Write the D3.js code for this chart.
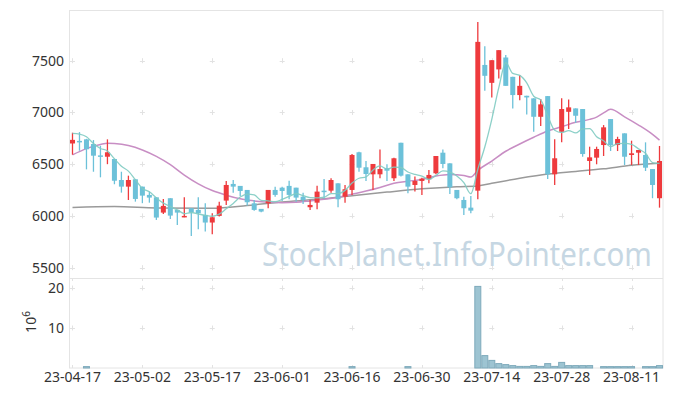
<!DOCTYPE html>
<html><head><meta charset="utf-8">
<script src="https://cdn.jsdelivr.net/npm/d3@7"></script>
<style>body{margin:0;background:#fff}svg{display:block}</style>
</head><body><svg id="c" width="673" height="396"></svg>
<script>
const dates = ["23-04-17","23-04-18","23-04-19","23-04-20","23-04-21","23-04-24","23-04-25","23-04-26","23-04-27","23-04-28",
"23-05-02","23-05-03","23-05-04","23-05-08","23-05-09","23-05-10","23-05-11","23-05-12","23-05-15","23-05-16",
"23-05-17","23-05-18","23-05-19","23-05-22","23-05-23","23-05-24","23-05-25","23-05-26","23-05-30","23-05-31",
"23-06-01","23-06-02","23-06-05","23-06-07","23-06-08","23-06-09","23-06-12","23-06-13","23-06-14","23-06-15",
"23-06-16","23-06-19","23-06-20","23-06-21","23-06-22","23-06-23","23-06-26","23-06-27","23-06-28","23-06-29",
"23-06-30","23-07-03","23-07-04","23-07-05","23-07-06","23-07-07","23-07-10","23-07-11","23-07-12","23-07-13",
"23-07-14","23-07-17","23-07-18","23-07-19","23-07-20","23-07-21","23-07-24","23-07-25","23-07-26","23-07-27",
"23-07-28","23-07-31","23-08-01","23-08-02","23-08-03","23-08-04","23-08-07","23-08-08","23-08-09","23-08-10",
"23-08-11","23-08-14","23-08-16","23-08-17","23-08-18"];
const open  = [6700,6725,6740,6695,6585,6572,6550,6347,6283,6354,6283,6203,6180,6032,6171,6058,5987,6074,6058,6010,5936,6000,6148,6309,6290,6251,6122,6068,6122,6251,6273,6290,6273,6186,6084,6128,6244,6244,6315,6186,6251,6615,6470,6402,6402,6460,6364,6707,6402,6299,6338,6354,6412,6611,6508,6251,6154,6080,6244,7459,7286,7416,7531,7344,7168,7161,7136,6958,7158,6402,6813,7006,7039,7033,6531,6563,6685,6936,6685,6798,6589,6611,6589,6453,6171];
const high  = [6804,6810,6745,6733,6678,6740,6550,6427,6389,6354,6283,6235,6180,6164,6171,6058,6180,6074,6180,6122,6026,6138,6338,6347,6290,6251,6154,6068,6251,6283,6283,6341,6273,6225,6154,6292,6357,6364,6315,6299,6598,6620,6531,6502,6643,6499,6563,6707,6402,6380,6370,6444,6579,6643,6508,6251,6186,6193,7875,7640,7505,7602,7554,7344,7361,7161,7136,7129,7158,6740,7136,7126,7039,7033,6669,6669,6878,6936,6765,6798,6727,6637,6711,6453,6676];
const low   = [6592,6630,6450,6427,6373,6500,6306,6225,6154,6138,6123,6128,5961,6019,5971,5913,5987,5807,5871,5849,5823,5995,6106,6225,6193,6100,6051,6035,6074,6186,6145,6161,6138,6116,6058,6065,6167,6225,6084,6128,6203,6428,6338,6251,6364,6338,6338,6380,6219,6235,6203,6315,6402,6460,6212,6161,6010,6026,6161,7209,7145,7329,7257,7039,7119,6981,6813,6869,6357,6299,6711,6840,6900,6572,6396,6499,6579,6627,6627,6492,6492,6492,6434,6171,6080];
const close = [6735,6720,6644,6582,6578,6615,6340,6283,6347,6164,6196,6177,5984,6097,6003,6032,6000,6035,6026,5936,5987,6099,6299,6283,6241,6132,6058,6042,6251,6203,6241,6203,6177,6154,6106,6235,6232,6347,6161,6258,6589,6466,6405,6502,6453,6437,6557,6389,6283,6338,6360,6396,6579,6502,6277,6171,6074,6051,7682,7354,7505,7602,7257,7168,7257,7145,6958,7078,6402,6557,7033,7049,6968,6598,6566,6647,6856,6685,6743,6572,6605,6637,6466,6299,6531];
const volume = [0.08,0.1,0.35,0.09,0.07,0.06,0.1,0.08,0.07,0.06,0.09,0.07,0.1,0.06,0.08,0.07,0.05,0.09,0.07,0.08,0.06,0.07,0.12,0.08,0.06,0.07,0.06,0.05,0.09,0.06,0.07,0.06,0.05,0.06,0.05,0.08,0.06,0.1,0.07,0.08,0.35,0.12,0.08,0.1,0.12,0.07,0.13,0.14,0.35,0.08,0.07,0.06,0.12,0.1,0.09,0.06,0.07,0.05,20.4,3.1,1.9,1.1,0.85,0.6,0.4,0.4,0.6,0.4,1.1,0.4,1.4,0.6,0.6,0.6,0.6,0.12,0.35,0.35,0.35,0.35,0.35,0.12,0.35,0.35,0.6];
const ma5 = [6798,6791,6765,6700,6652,6628,6552,6480,6433,6350,6266,6233,6174,6124,6091,6059,6023,6033,6019,6006,5997,6017,6069,6121,6182,6211,6203,6151,6145,6137,6159,6188,6215,6196,6176,6175,6181,6215,6216,6247,6317,6364,6376,6444,6483,6453,6471,6468,6424,6401,6385,6353,6391,6435,6423,6385,6321,6215,6451,6666,6933,7239,7480,7377,7358,7286,7157,7121,6968,6828,6806,6824,6802,6841,6843,6766,6727,6670,6699,6701,6692,6648,6605,6516,6508];
const ma20Idx = [0,2,4,5,6,8,10,12,14,16,18,20,22,24,26,28,30,32,34,36,38,40,42,44,46,48,50,52,54,56,57,58,60,62,64,66,68,70,72,74,75,76,77,79,81,83,84];
const ma20Val = [6590,6650,6690,6703,6700,6680,6637,6575,6495,6395,6310,6245,6200,6165,6145,6132,6128,6132,6145,6160,6180,6210,6240,6275,6315,6335,6352,6385,6400,6390,6375,6440,6530,6625,6695,6760,6820,6862,6905,6933,6955,6995,7030,6958,6878,6788,6733];
const ma60Idx = [0,6,12,20,25,30,35,40,45,50,55,58,60,64,68,72,76,80,84];
const ma60Val = [6082,6090,6077,6073,6100,6135,6160,6195,6230,6262,6283,6290,6315,6364,6405,6430,6455,6490,6508];
const priceTicks = [5500,6000,6500,7000,7500];
const volTicks = [10,20];
const xTickIdx = [0,10,20,30,40,50,60,70,80];
const xTickLabels = ["23-04-17","23-05-02","23-05-17","23-06-01","23-06-16","23-06-30","23-07-14","23-07-28","23-08-11"];

const svg = d3.select("#c");
const L = 69, R = 663, T = 10, MID = 278, B = 368;
const idx = d3.range(dates.length);
const x = d3.scaleBand().domain(idx).range([L, R]).padding(0);
const cx = i => x(i) + x.bandwidth() / 2;
const y = d3.scaleLinear().domain([5400, 7990]).range([MID, T]);
const yv = d3.scaleLinear().domain([0, 22.5]).range([B, MID]);
const font = "'Noto Sans', 'DejaVu Sans', sans-serif";
const UP = "#ee3a3d", DOWN = "#6cc1d9";

// grid crosses
const grid = svg.append("g").attr("stroke", "#e2e2e2").attr("stroke-width", 1);
function cross(px, py) {
  grid.append("line").attr("x1", px - 2.5).attr("x2", px + 2.5).attr("y1", Math.round(py) + 0.5).attr("y2", Math.round(py) + 0.5);
  grid.append("line").attr("x1", Math.round(px) + 0.5).attr("x2", Math.round(px) + 0.5).attr("y1", py - 2.5).attr("y2", py + 2.5);
}
xTickIdx.forEach(i => {
  priceTicks.forEach(p => cross(cx(i), y(p)));
  volTicks.forEach(v => cross(cx(i), yv(v)));
  grid.append("line").attr("x1", Math.round(cx(i)) + 0.5).attr("x2", Math.round(cx(i)) + 0.5).attr("y1", MID).attr("y2", MID + 3);
  grid.append("line").attr("x1", Math.round(cx(i)) + 0.5).attr("x2", Math.round(cx(i)) + 0.5).attr("y1", B - 3).attr("y2", B);
});

// frame
svg.append("rect").attr("x", L + 0.5).attr("y", T + 0.5).attr("width", R - L - 0.5).attr("height", B - T - 0.5)
  .attr("fill", "none").attr("stroke", "#e4e4e4");
svg.append("line").attr("x1", L).attr("x2", R).attr("y1", MID + 0.5).attr("y2", MID + 0.5).attr("stroke", "#e4e4e4");

// watermark (scaled horizontally to the reference width)
const wm = svg.append("text").attr("x", 0).attr("y", 0).attr("font-family", font).attr("font-size", 33)
  .attr("fill", "#c6d7e3").text("StockPlanet.InfoPointer.com");
const wlen = wm.node().getComputedTextLength();
wm.attr("transform", `translate(262,266) scale(${390 / wlen},1)`);

// moving averages
const lineIdx = d3.line().x(d => cx(d[0])).y(d => y(d[1])).curve(d3.curveMonotoneX);
svg.append("path").attr("d", lineIdx(ma60Idx.map((d, k) => [d, ma60Val[k]])))
  .attr("fill", "none").attr("stroke", "#9a9a9a").attr("stroke-width", 1.5);
svg.append("path").attr("d", lineIdx(ma20Idx.map((d, k) => [d, ma20Val[k]])))
  .attr("fill", "none").attr("stroke", "#c88ec4").attr("stroke-width", 1.5);

// candles
const cg = svg.append("g");
idx.forEach(i => {
  const up = close[i] >= open[i];
  const col = up ? UP : DOWN;
  cg.append("line").attr("x1", cx(i)).attr("x2", cx(i)).attr("y1", y(high[i])).attr("y2", y(low[i]))
    .attr("stroke", col).attr("stroke-width", 1.3);
  const top = y(Math.max(open[i], close[i])), bot = y(Math.min(open[i], close[i]));
  cg.append("rect").attr("x", cx(i) - 2.5).attr("width", 5).attr("y", top).attr("height", Math.max(1.5, bot - top))
    .attr("fill", col);
});

svg.append("path").attr("d", d3.line().x((d, i) => cx(i)).y(d => y(d)).curve(d3.curveMonotoneX)(ma5))
  .attr("fill", "none").attr("stroke", "#7fcbc2").attr("stroke-width", 1.3).attr("opacity", 0.9);

// volume
const vg = svg.append("g");
idx.forEach(i => {
  const h = yv(0) - yv(volume[i]);
  if (h < 1) return;
  vg.append("rect").attr("x", x(i) + 0.5).attr("width", x.bandwidth() - 1).attr("y", yv(volume[i])).attr("height", h)
    .attr("fill", "#9dc4d2").attr("stroke", "#7eaabb").attr("stroke-width", 1);
});

// axes labels
const lab = svg.append("g").attr("font-family", font).attr("font-size", 14).attr("fill", "#333");
priceTicks.forEach(p => lab.append("text").attr("x", 64).attr("y", y(p)).attr("dy", "0.36em").attr("text-anchor", "end").text(p));
volTicks.forEach(v => lab.append("text").attr("x", 64).attr("y", yv(v)).attr("dy", "0.36em").attr("text-anchor", "end").text(v));
xTickIdx.forEach((i, k) => lab.append("text").attr("x", cx(i)).attr("y", 382).attr("text-anchor", "middle").text(xTickLabels[k]));
const unit = lab.append("text").attr("transform", "translate(36,322) rotate(-90)").attr("text-anchor", "middle");
unit.append("tspan").text("10");
unit.append("tspan").attr("font-size", 10).attr("dy", -6).text("6");
</script></body></html>
